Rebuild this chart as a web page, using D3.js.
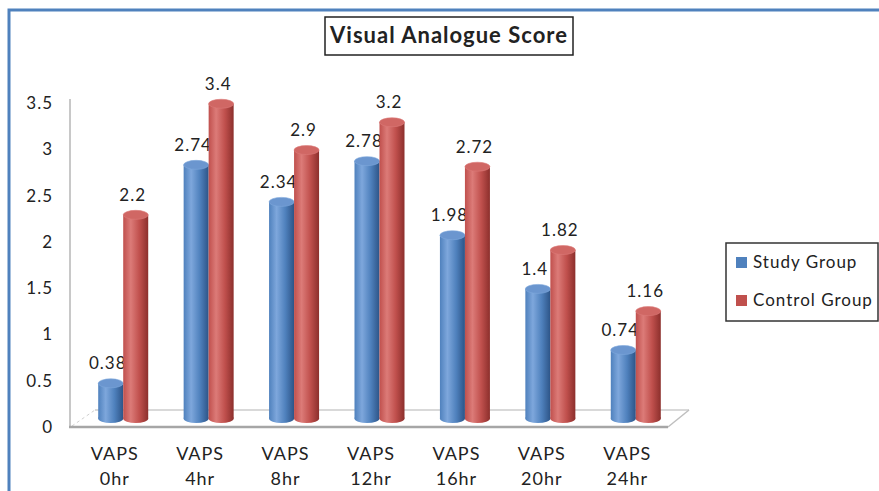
<!DOCTYPE html>
<html>
<head>
<meta charset="utf-8">
<script src="https://cdn.jsdelivr.net/npm/d3@7"></script>
<style>
  body { margin: 0; background: #fff; }
  svg text { font-family: Lato, 'Open Sans', sans-serif; fill: #222; letter-spacing: 1px; }
</style>
</head>
<body>
<script>
'use strict';

// chart values
var categories = ['VAPS 0hr', 'VAPS 4hr', 'VAPS 8hr', 'VAPS 12hr', 'VAPS 16hr', 'VAPS 20hr', 'VAPS 24hr'];
var seriesNames = ['Study Group', 'Control Group'];
var studyGroup = [0.38, 2.74, 2.34, 2.78, 1.98, 1.4, 0.74];
var controlGroup = [2.2, 3.4, 2.9, 3.2, 2.72, 1.82, 1.16];
var yTicks = [0, 0.5, 1, 1.5, 2, 2.5, 3, 3.5];
var titleText = 'Visual Analogue Score';

var seriesValues = [studyGroup, controlGroup];
var seriesColors = [
    { base: '#4f81bd', light: '#7ea7dc', dark: '#2d5487', top: '#6b96cf' }
  , { base: '#c0504d', light: '#dc7b78', dark: '#8c2f2c', top: '#d06764' }
];

var W = 879, H = 491;
var depth = { dx: 21, dy: -17 };   // floor back offset
var mid   = { dx: depth.dx / 2, dy: depth.dy / 2 };

var svg = d3.select('body')
  .append('svg')
  .attr('width', W)
  .attr('height', H);

// outer frame, runs off the picture right and bottom
svg.append('rect')
  .attr('x', 9).attr('y', 10)
  .attr('width', 900).attr('height', 520)
  .attr('fill', 'none')
  .attr('stroke', '#4f81bd')
  .attr('stroke-width', 3);

var x0 = d3.scaleBand()
  .domain(categories)
  .range([70, 668]);

var x1 = d3.scaleBand()
  .domain(seriesNames)
  .range([-25, 25]);

var y = d3.scaleLinear()
  .domain([0, 3.5])
  .range([427, 103]);

// floor
var floor = svg.append('g');
floor.append('path')
  .attr('d', 'M70,427 L668,427 L' + (668 + depth.dx) + ',' + (427 + depth.dy) +
             ' L' + (70 + depth.dx + 4) + ',' + (427 + depth.dy) + ' Z')
  .attr('fill', '#fff')
  .attr('stroke', 'none');
floor.append('line')
  .attr('x1', 70 + depth.dx + 4).attr('y1', 427 + depth.dy)
  .attr('x2', 668 + depth.dx).attr('y2', 427 + depth.dy)
  .attr('stroke', '#d9d9d9').attr('stroke-width', 2);
floor.append('line')
  .attr('x1', 668).attr('y1', 427)
  .attr('x2', 668 + depth.dx).attr('y2', 427 + depth.dy)
  .attr('stroke', '#bfbfbf').attr('stroke-width', 1.5);
floor.append('line')
  .attr('x1', 72).attr('y1', 426)
  .attr('x2', 70 + depth.dx + 4).attr('y2', 427 + depth.dy)
  .attr('stroke', '#d0d0d0').attr('stroke-width', 1)
  .attr('stroke-dasharray', '3,3');

// gradients for cylinder bodies
var defs = svg.append('defs');
seriesColors.forEach(function (c, i) {
  var g = defs.append('linearGradient')
    .attr('id', 'cyl' + i)
    .attr('x1', '0%').attr('x2', '100%')
    .attr('y1', '0%').attr('y2', '0%');
  g.append('stop').attr('offset', '0%').attr('stop-color', c.base);
  g.append('stop').attr('offset', '30%').attr('stop-color', c.light);
  g.append('stop').attr('offset', '65%').attr('stop-color', c.base);
  g.append('stop').attr('offset', '100%').attr('stop-color', c.dark);
});

// bars as cylinders
var ry = 4.5;
var bw = x1.bandwidth();
var bars = [];
categories.forEach(function (cat, ci) {
  seriesNames.forEach(function (s, si) {
    bars.push({ cat: cat, s: s, si: si, v: seriesValues[si][ci] });
  });
});

var cyl = svg.append('g')
  .selectAll('g')
  .data(bars)
  .join('g')
  .attr('transform', function (d) {
    var cx = x0(d.cat) + x0.bandwidth() / 2 + mid.dx + x1(d.s);
    return 'translate(' + cx + ',0)';
  });

cyl.append('ellipse')
  .attr('cx', bw / 2)
  .attr('cy', y(0) + mid.dy)
  .attr('rx', bw / 2).attr('ry', ry)
  .attr('fill', function (d) { return 'url(#cyl' + d.si + ')'; });

cyl.append('rect')
  .attr('x', 0)
  .attr('width', bw)
  .attr('y', function (d) { return y(d.v) + mid.dy; })
  .attr('height', function (d) { return y(0) - y(d.v); })
  .attr('fill', function (d) { return 'url(#cyl' + d.si + ')'; });

cyl.append('ellipse')
  .attr('cx', bw / 2)
  .attr('cy', function (d) { return y(d.v) + mid.dy; })
  .attr('rx', bw / 2).attr('ry', ry)
  .attr('fill', function (d) { return seriesColors[d.si].top; })
  .attr('stroke', function (d) { return seriesColors[d.si].light; })
  .attr('stroke-width', 0.6);

cyl.append('text')
  .attr('x', bw / 2 - 3)
  .attr('y', function (d) { return y(d.v) + mid.dy - 14; })
  .attr('text-anchor', 'middle')
  .style('font-size', '17px')
  .text(function (d) { return d.v; });

// y axis
var yAxis = svg.append('g')
  .attr('transform', 'translate(70,0)')
  .call(d3.axisLeft(y).tickValues(yTicks).tickSize(0).tickPadding(17)
          .tickFormat(function (d) { return String(d); }));
yAxis.select('.domain')
  .attr('d', 'M0,99 L0,427')
  .attr('stroke', '#c8c8c8')
  .attr('stroke-width', 2);
yAxis.selectAll('text')
  .style('font-size', '17px')
  .style('font-family', 'Lato, sans-serif')
  .attr('fill', '#222');

svg.append('line')
  .attr('x1', 69).attr('y1', 427)
  .attr('x2', 668).attr('y2', 427)
  .attr('stroke', '#a6a6a6').attr('stroke-width', 2.5);

// x labels, two lines
var xl = svg.append('g')
  .selectAll('text')
  .data(categories)
  .join('text')
  .attr('text-anchor', 'middle')
  .style('font-size', '18px')
  .attr('transform', function (d) {
    return 'translate(' + (x0(d) + x0.bandwidth() / 2 + 2) + ',0)';
  });
xl.append('tspan')
  .attr('x', 0).attr('y', 460)
  .text(function (d) { return d.split(' ')[0]; });
xl.append('tspan')
  .attr('x', 0).attr('y', 485)
  .text(function (d) { return d.split(' ')[1]; });

// title
var title = svg.append('g');
title.append('rect')
  .attr('x', 325).attr('y', 17)
  .attr('width', 248).attr('height', 38)
  .attr('fill', '#fff')
  .attr('stroke', '#222')
  .attr('stroke-width', 1.5);
title.append('text')
  .attr('x', 449).attr('y', 43)
  .attr('text-anchor', 'middle')
  .style('font-size', '22px')
  .style('font-weight', 'bold')
  .text(titleText);

// legend
var legend = svg.append('g');
legend.append('rect')
  .attr('x', 726).attr('y', 243)
  .attr('width', 152).attr('height', 78)
  .attr('fill', '#fff')
  .attr('stroke', '#333')
  .attr('stroke-width', 1.5);
var li = legend.selectAll('g')
  .data(seriesNames)
  .join('g')
  .attr('transform', function (d, i) { return 'translate(736,' + (257 + i * 38) + ')'; });
li.append('rect')
  .attr('width', 11).attr('height', 11)
  .attr('fill', function (d, i) { return seriesColors[i].base; });
li.append('text')
  .attr('x', 17).attr('y', 11)
  .style('font-size', '17px')
  .text(function (d) { return d; });
</script>
</body>
</html>
